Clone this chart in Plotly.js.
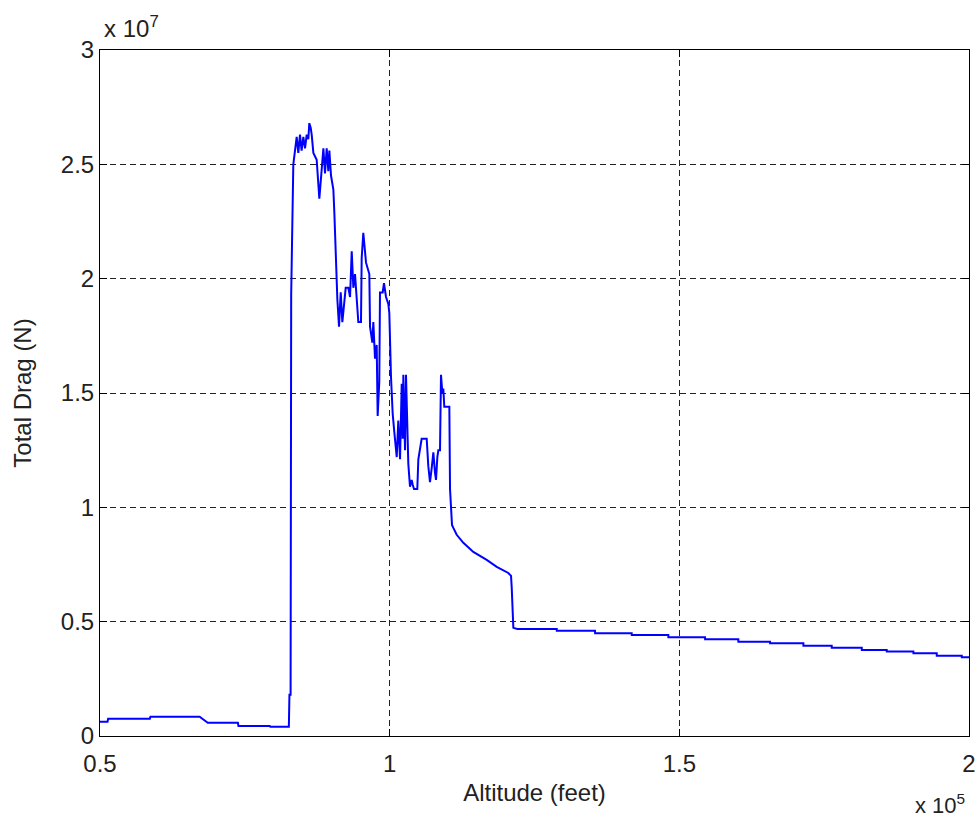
<!DOCTYPE html>
<html>
<head>
<meta charset="utf-8">
<script src="https://cdn.plot.ly/plotly-3.0.1.min.js"></script>
<style>html,body{margin:0;padding:0;background:#fff;}#chart{width:977px;height:822px;}</style>
</head>
<body>
<div id="chart"></div>
<script>
// Altitude in feet
var altitude = [
  50000, 51300, 51400, 58600, 58700, 67200, 68600, 73800, 73900, 79300, 79400, 82600, 82700, 82900,
  83000, 83370, 83660, 83950, 84230, 84520, 84800, 85100, 85390, 85680, 85960, 86130, 86370, 86540,
  86830, 87400, 87860, 88100, 88270, 88560, 88840, 89130, 89410, 89590, 89880, 90280, 90450, 90680,
  90860, 90970, 91260, 91550, 91830, 92120, 92410, 92870, 93160, 93450, 93730, 94020, 94310, 94590,
  95050, 95170, 95450, 95690, 95920, 96490, 96610, 97010, 97180, 97470, 97760, 97930, 98210, 98330,
  98790, 99020, 99370, 99770, 99940, 100230, 100520, 100800, 101220, 101490, 101790, 102080, 102250,
  102360, 102650, 102820, 103050, 103220, 103510, 103800, 103970, 104200, 104770, 104950, 105520,
  106390, 106670, 106960, 107250, 107540, 107830, 108000, 108230, 108400, 108690, 108860, 109090,
  109260, 109430, 110300, 110420, 110710, 110760, 110990, 111570, 112720, 114440, 116750, 118480,
  120480, 120950, 121070, 121350, 122040, 128840, 128850, 135450, 135460, 141780, 141790, 148100,
  148110, 154440, 154450, 160180, 160190, 165660, 165670, 171410, 171420, 176300, 176310, 181490,
  181500, 185800, 185810, 190400, 190410, 194430, 194440, 198750, 198760, 200000
];
// Total drag in newtons
var totalDrag = [
  0.062e7, 0.062e7, 0.075e7, 0.075e7, 0.084e7, 0.084e7, 0.058e7, 0.058e7, 0.044e7, 0.044e7, 0.040e7, 0.040e7, 0.18e7, 0.18e7,
  1.93e7, 2.50e7, 2.56e7, 2.62e7, 2.55e7, 2.63e7, 2.56e7, 2.62e7, 2.57e7, 2.63e7, 2.61e7, 2.68e7, 2.66e7, 2.63e7,
  2.55e7, 2.52e7, 2.35e7, 2.44e7, 2.48e7, 2.57e7, 2.46e7, 2.57e7, 2.47e7, 2.56e7, 2.45e7, 2.39e7, 2.29e7, 2.08e7,
  2.01e7, 1.91e7, 1.79e7, 1.94e7, 1.81e7, 1.88e7, 1.96e7, 1.96e7, 1.92e7, 2.12e7, 1.96e7, 2.02e7, 1.89e7, 1.81e7,
  1.81e7, 2.09e7, 2.20e7, 2.14e7, 2.07e7, 2.02e7, 1.79e7, 1.72e7, 1.81e7, 1.65e7, 1.71e7, 1.40e7, 1.55e7, 1.94e7,
  1.94e7, 1.98e7, 1.92e7, 1.89e7, 1.85e7, 1.57e7, 1.41e7, 1.33e7, 1.22e7, 1.38e7, 1.21e7, 1.54e7, 1.30e7,
  1.58e7, 1.25e7, 1.58e7, 1.30e7, 1.19e7, 1.09e7, 1.12e7, 1.10e7, 1.08e7, 1.08e7, 1.21e7, 1.30e7,
  1.30e7, 1.18e7, 1.11e7, 1.17e7, 1.24e7, 1.15e7, 1.12e7, 1.22e7, 1.25e7, 1.25e7, 1.58e7, 1.50e7,
  1.52e7, 1.44e7, 1.44e7, 1.08e7, 0.945e7, 0.923e7, 0.91e7, 0.88e7, 0.845e7, 0.805e7, 0.77e7, 0.74e7,
  0.713e7, 0.70e7, 0.648e7, 0.473e7, 0.468e7, 0.468e7, 0.460e7, 0.460e7, 0.4495e7, 0.4495e7, 0.442e7, 0.442e7,
  0.432e7, 0.432e7, 0.423e7, 0.423e7, 0.4126e7, 0.4126e7, 0.4055e7, 0.4055e7, 0.395e7, 0.395e7, 0.386e7, 0.386e7,
  0.376e7, 0.376e7, 0.369e7, 0.369e7, 0.362e7, 0.362e7, 0.351e7, 0.351e7, 0.344e7, 0.344e7
];
var xTickVals = [50000, 100000, 150000, 200000];
var xTickText = ['0.5', '1', '1.5', '2'];
var yTickVals = [0, 0.5e7, 1e7, 1.5e7, 2e7, 2.5e7, 3e7];
var yTickText = ['0', '0.5', '1', '1.5', '2', '2.5', '3'];

var fontFam = 'Liberation Sans, Arial, sans-serif';
var txtCol = '#222';

var trace = {
  x: altitude, y: totalDrag, type: 'scatter', mode: 'lines',
  line: {color: '#0000ff', width: 2}, hoverinfo: 'skip'
};
var axisCommon = {
  showline: true, linecolor: '#000', linewidth: 1, mirror: 'ticks',
  ticks: 'inside', ticklen: 7, tickcolor: '#000', tickwidth: 1,
  showgrid: true, gridcolor: '#222', gridwidth: 1, griddash: '6px,4px',
  zeroline: false, tickfont: {family: fontFam, size: 24, color: txtCol}
};
var layout = {
  width: 977, height: 822,
  margin: {l: 100, r: 8, t: 50, b: 86},
  paper_bgcolor: '#fff', plot_bgcolor: '#fff',
  showlegend: false,
  xaxis: Object.assign({}, axisCommon, {
    range: [50000, 200000], tickmode: 'array', tickvals: xTickVals, ticktext: xTickText,
    ticklabelstandoff: 6,
    title: {text: 'Altitude (feet)', font: {family: fontFam, size: 24, color: txtCol}, standoff: 8}
  }),
  yaxis: Object.assign({}, axisCommon, {
    range: [0, 3e7], tickmode: 'array', tickvals: yTickVals, ticktext: yTickText,
    title: {text: 'Total Drag (N)', font: {family: fontFam, size: 24, color: txtCol}, standoff: 22}
  }),
  annotations: [
    {xref: 'paper', yref: 'paper', x: 0.002, y: 1, xanchor: 'left', yanchor: 'bottom', yshift: 6,
     text: 'x 10<sup>7</sup>', showarrow: false, font: {family: fontFam, size: 24, color: txtCol}},
    {xref: 'paper', yref: 'paper', x: 1, y: 0, xanchor: 'right', yanchor: 'top', yshift: -52, xshift: -2,
     text: 'x 10<sup>5</sup>', showarrow: false, font: {family: fontFam, size: 22, color: txtCol}}
  ]
};
Plotly.newPlot('chart', [trace], layout, {staticPlot: true, displayModeBar: false});
</script>
</body>
</html>
